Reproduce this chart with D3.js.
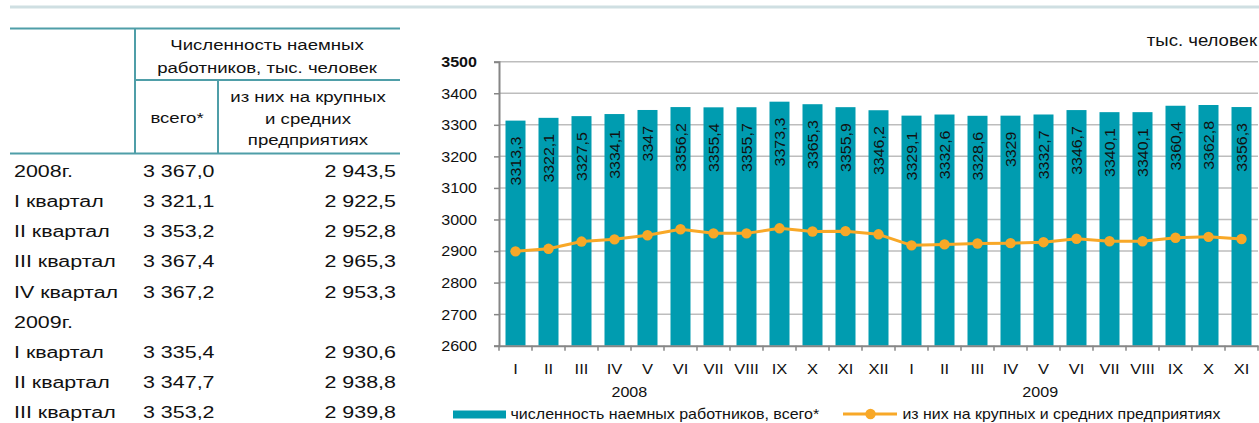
<!DOCTYPE html>
<html lang="ru">
<head>
<meta charset="utf-8">
<script src="https://cdn.jsdelivr.net/npm/d3@7/dist/d3.min.js"></script>
<style>
  html, body { margin: 0; padding: 0; background: #fff; }
  svg { display: block; font-family: "Liberation Sans", Arial, sans-serif; }
</style>
</head>
<body>
<svg id="chart" width="1259" height="423"></svg>
<script>
// Monthly categories (two years)
const months2008 = ["I","II","III","IV","V","VI","VII","VIII","IX","X","XI","XII"];
const months2009 = ["I","II","III","IV","V","VI","VII","VIII","IX","X","XI"];
const years = ["2008", "2009"];

// Number of hired workers, total (thousand people)
const totalWorkers = [3313.3, 3322.1, 3327.5, 3334.1, 3347, 3356.2, 3355.4, 3355.7, 3373.3, 3365.3, 3355.9, 3346.2,
                      3329.1, 3332.6, 3328.6, 3329, 3332.7, 3346.7, 3340.1, 3340.1, 3360.4, 3362.8, 3356.3];
// of which at large and medium enterprises
const largeMedium = [2899, 2907, 2930, 2937, 2950, 2969, 2956, 2956, 2972, 2962, 2963, 2953,
                     2918, 2921, 2924, 2925, 2928, 2939, 2931, 2931, 2942, 2945, 2938];

const yTicks = [2600, 2700, 2800, 2900, 3000, 3100, 3200, 3300, 3400, 3500];

// Table beside the chart
const tableRows  = ["2008г.", "I квартал", "II квартал", "III квартал", "IV квартал", "2009г.", "I квартал", "II квартал", "III квартал"];
const tableTotal = ["3 367,0", "3 321,1", "3 353,2", "3 367,4", "3 367,2", "", "3 335,4", "3 347,7", "3 353,2"];
const tableLarge = ["2 943,5", "2 922,5", "2 952,8", "2 965,3", "2 953,3", "", "2 930,6", "2 938,8", "2 939,8"];

const legendLabels = ["численность наемных работников, всего*", "из них на крупных и средних предприятиях"];

const BAR = "#009cb0", LINE = "#f8a827", TEAL_RULE = "#4f9ea8";
const svg = d3.select("#chart");

// wide-set text helper
function txt(parent, x, y, s, o = {}) {
  const sx = o.sx || 1.15;
  const rot = o.rotate ? ` rotate(${o.rotate})` : "";
  return parent.append("text")
    .attr("transform", `translate(${x},${y})${rot} scale(${sx},1)`)
    .attr("dy", "0.35em")
    .attr("text-anchor", o.anchor || "start")
    .attr("font-size", o.size || 14)
    .attr("font-weight", o.weight || "normal")
    .attr("fill", o.fill || "#111")
    .text(s);
}

// ---------- decorative top rule ----------
svg.append("line").attr("x1", 10).attr("x2", 1259).attr("y1", 7).attr("y2", 7)
  .attr("stroke", "#cfdfe2").attr("stroke-width", 3);

// ---------- table ----------
const tbl = svg.append("g");
const rule = (x1, y1, x2, y2) => tbl.append("line").attr("x1", x1).attr("y1", y1).attr("x2", x2).attr("y2", y2)
  .attr("stroke", TEAL_RULE).attr("stroke-width", 2);
rule(10, 28.5, 400, 28.5);
rule(135, 28.5, 135, 153.5);
rule(135, 80, 400, 80);
rule(218, 80, 218, 153.5);
rule(10, 153.5, 400, 153.5);

const hOpt = { size: 15.5, sx: 1.2, fill: "#111" };
txt(tbl, 267, 44.5, "Численность наемных", { ...hOpt, anchor: "middle" });
txt(tbl, 267, 68, "работников, тыс. человек", { ...hOpt, anchor: "middle" });
txt(tbl, 177, 118, "всего*", { ...hOpt, anchor: "middle" });
txt(tbl, 308, 97, "из них на крупных", { ...hOpt, anchor: "middle" });
txt(tbl, 308, 118.5, "и средних", { ...hOpt, anchor: "middle" });
txt(tbl, 308, 140, "предприятиях", { ...hOpt, anchor: "middle" });

const tOpt = { size: 17.3, sx: 1.24, fill: "#111" };
const rowY = d3.scaleLinear().domain([0, tableRows.length - 1]).range([171, 412]);
tableRows.forEach((r, i) => {
  txt(tbl, 14, rowY(i), r, tOpt);
  if (tableTotal[i]) txt(tbl, 143, rowY(i), tableTotal[i], tOpt);
  if (tableLarge[i]) txt(tbl, 396, rowY(i), tableLarge[i], { ...tOpt, anchor: "end" });
});

// ---------- chart ----------
const cats = months2008.map(m => "2008-" + m).concat(months2009.map(m => "2009-" + m));
const x = d3.scaleBand().domain(cats).range([499, 1258]).paddingInner(0.394).paddingOuter(0.197);
const y = d3.scaleLinear().domain([2600, 3500]).range([345.7, 61.7]);
const cx = c => x(c) + x.bandwidth() / 2;
const step = x.step();

// gridlines
svg.append("g").selectAll("line").data(yTicks.slice(1)).join("line")
  .attr("x1", 499).attr("x2", 1258).attr("y1", d => y(d)).attr("y2", d => y(d))
  .attr("stroke", "#bdbdbd").attr("stroke-width", 1.5);

// bars
const bars = svg.append("g");
bars.selectAll("rect").data(totalWorkers).join("rect")
  .attr("x", (d, i) => x(cats[i])).attr("width", x.bandwidth())
  .attr("y", d => y(d)).attr("height", d => y(2600) - y(d))
  .attr("fill", BAR);

// bar value labels (vertical)
const fmt = v => String(v).replace(".", ",");
totalWorkers.forEach((v, i) => {
  txt(bars, cx(cats[i]), y(v) + 16, fmt(v), { size: 14.5, sx: 1.1, anchor: "end", rotate: -90, fill: "#111" });
});

// y axis
const yAxis = svg.append("g").attr("transform", "translate(499,0)")
  .call(d3.axisLeft(y).tickValues(yTicks).tickSize(5).tickPadding(22).tickFormat(d3.format("d")));
yAxis.select(".domain").attr("stroke", "#868686").attr("stroke-width", 2);
yAxis.selectAll(".tick line").attr("stroke", "#868686").attr("stroke-width", 1.5);
yAxis.selectAll(".tick text")
  .attr("x", null).attr("dy", "0.35em")
  .attr("transform", "translate(-22,0) scale(1.15,1)")
  .attr("font-size", 14).attr("font-family", null).attr("fill", "#111")
  .attr("font-weight", d => d === 3500 ? "bold" : "normal");

// x axis
const xAxis = svg.append("g").attr("transform", "translate(0,345.7)")
  .call(d3.axisBottom(x).tickSize(0).tickFormat(d => d.split("-")[1]));
xAxis.select(".domain").attr("stroke", "#868686").attr("stroke-width", 2);
xAxis.selectAll(".tick text")
  .attr("x", 0).attr("y", 23).attr("dy", "0.35em")
  .attr("font-size", 14).attr("font-family", null).attr("fill", "#111")
  .attr("transform", "scale(1.18,1)");
// boundary ticks between categories
const bIdx = d3.range(cats.length + 1);
xAxis.append("g").selectAll("line").data(bIdx).join("line")
  .attr("x1", i => 499 + i * step).attr("x2", i => 499 + i * step)
  .attr("y1", 0).attr("y2", 5)
  .attr("stroke", "#868686").attr("stroke-width", 1.5);

// year labels under the month labels
const idx = d3.scaleLinear().domain([0, cats.length]).range([499, 1258]);
const yearAnchor = [3.95, 16.4];
years.forEach((yr, i) => txt(svg, idx(yearAnchor[i]), 392.3, yr, { size: 14, sx: 1.15, anchor: "middle" }));

// line series with markers
const line = d3.line().x((d, i) => cx(cats[i])).y(d => y(d));
svg.append("path").datum(largeMedium).attr("d", line)
  .attr("fill", "none").attr("stroke", LINE).attr("stroke-width", 3).attr("stroke-linejoin", "round");
svg.append("g").selectAll("circle").data(largeMedium).join("circle")
  .attr("cx", (d, i) => cx(cats[i])).attr("cy", d => y(d)).attr("r", 5.2).attr("fill", LINE);

// units
txt(svg, 1257, 40.7, "тыс. человек", { size: 16, sx: 1.16, anchor: "end" });

// legend
const lg = svg.append("g");
lg.append("rect").attr("x", 453).attr("y", 410.5).attr("width", 53).attr("height", 8).attr("fill", BAR);
txt(lg, 510.5, 414.5, legendLabels[0], { size: 14, sx: 1.145 });
lg.append("line").attr("x1", 843).attr("x2", 897).attr("y1", 414).attr("y2", 414)
  .attr("stroke", LINE).attr("stroke-width", 3);
lg.append("circle").attr("cx", 870.5).attr("cy", 414).attr("r", 5.2).attr("fill", LINE);
txt(lg, 902.5, 414.5, legendLabels[1], { size: 14, sx: 1.135 });
</script>
</body>
</html>
